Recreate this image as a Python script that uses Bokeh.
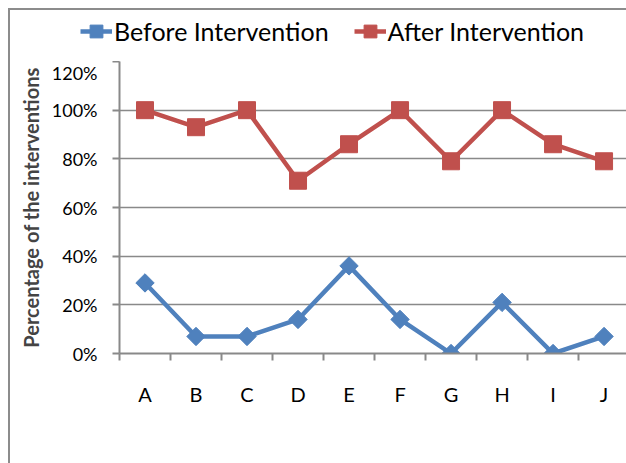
import math
from bokeh.plotting import figure
from bokeh.layouts import column
from bokeh.models import Range1d, FixedTicker, NumeralTickFormatter, Legend, LegendItem
from bokeh.embed import file_html
from bokeh.resources import INLINE

categories = ["A", "B", "C", "D", "E", "F", "G", "H", "I", "J"]
before = [0.29, 0.07, 0.07, 0.14, 0.36, 0.14, 0.00, 0.21, 0.00, 0.07]
after = [1.00, 0.93, 1.00, 0.71, 0.86, 1.00, 0.79, 1.00, 0.86, 0.79]
y_ticks = [0, 0.2, 0.4, 0.6, 0.8, 1.0, 1.2]
series_names = ["Before Intervention", "After Intervention"]

xs = [i + 0.5 for i in range(len(categories))]
FONT = "Lato"
GRAY = "#898989"
BLUE = "#4F81BD"
RED = "#C0504D"

# main plot
p = figure(width=616, height=402, output_backend="svg", toolbar_location=None,
           x_range=Range1d(0, 9.94), y_range=Range1d(0, 1.2),
           min_border_left=109, min_border_right=0, min_border_top=0, min_border_bottom=110)
p.outline_line_color = None
p.background_fill_color = "white"
p.border_fill_color = "white"

p.xaxis.ticker = FixedTicker(ticks=xs, minor_ticks=list(range(len(categories) + 1)))
p.xaxis.major_label_overrides = {x: c for x, c in zip(xs, categories)}
p.xaxis.major_tick_line_color = None
p.xaxis.minor_tick_out = 7
p.xaxis.minor_tick_in = 0
p.xaxis.minor_tick_line_color = GRAY
p.xaxis.minor_tick_line_width = 2
p.xaxis.axis_line_color = GRAY
p.xaxis.axis_line_width = 2
p.xaxis.major_label_standoff = 21
p.xaxis.major_label_text_font = FONT
p.xaxis.major_label_text_font_size = "20px"
p.xaxis.major_label_text_color = "black"
p.xgrid.visible = False

p.yaxis.ticker = FixedTicker(ticks=y_ticks, minor_ticks=[])
p.yaxis.formatter = NumeralTickFormatter(format="0%")
p.yaxis.major_tick_out = 7
p.yaxis.major_tick_in = 0
p.yaxis.major_tick_line_color = GRAY
p.yaxis.major_tick_line_width = 2
p.yaxis.axis_line_color = GRAY
p.yaxis.axis_line_width = 2
p.yaxis.major_label_standoff = 15
p.yaxis.major_label_text_font = FONT
p.yaxis.major_label_text_font_size = "18px"
p.yaxis.major_label_text_color = "black"
p.yaxis.axis_label = "Percentage of the interventions"
p.yaxis.axis_label_text_font = FONT
p.yaxis.axis_label_text_font_style = "bold"
p.yaxis.axis_label_text_font_size = "20px"
p.yaxis.axis_label_standoff = 6
p.ygrid.ticker = FixedTicker(ticks=y_ticks)
p.ygrid.grid_line_color = GRAY
p.ygrid.grid_line_width = 1.5

p.line(xs, before, line_color=BLUE, line_width=4.5)
p.scatter(xs, before, marker="square", size=13, angle=math.pi / 4,
          fill_color=BLUE, line_color=BLUE)
p.line(xs, after, line_color=RED, line_width=4.5)
p.scatter(xs, after, marker="square", size=17, fill_color=RED, line_color=RED)

# legend strip above the plot (its ranges keep the series out of view; only the legend shows)
leg = figure(width=616, height=51, output_backend="svg", toolbar_location=None,
             x_range=Range1d(100, 101), y_range=Range1d(100, 101),
             x_axis_type=None, y_axis_type=None, min_border=0)
leg.outline_line_color = None
leg.grid.visible = False
leg.background_fill_color = "white"
leg.border_fill_color = "white"
bl = leg.line(xs, before, line_color=BLUE, line_width=4.5)
bm = leg.scatter(xs, before, marker="square", size=12, angle=math.pi / 4,
                 fill_color=BLUE, line_color=BLUE)
al = leg.line(xs, after, line_color=RED, line_width=4.5)
am = leg.scatter(xs, after, marker="square", size=15, fill_color=RED, line_color=RED)
legend = Legend(items=[LegendItem(label=series_names[0], renderers=[bl, bm]),
                       LegendItem(label=series_names[1], renderers=[al, am])],
                orientation="horizontal", location=(70, 13),
                label_text_font=FONT, label_text_font_size="25px", label_text_color="black",
                glyph_width=32, glyph_height=34, label_standoff=2, spacing=25,
                padding=0, margin=0, border_line_color=None, background_fill_alpha=0)
leg.add_layout(legend, "center")

for fig in (leg, p):
    try:
        fig.frame_align = False
    except Exception:
        pass

layout = column(leg, p, spacing=0,
                styles={"border-left": "2px solid #8c8c8c", "border-top": "2px solid #8c8c8c",
                        "margin-left": "8px", "margin-top": "8px"})

open("out.html", "w").write(file_html(layout, INLINE))
